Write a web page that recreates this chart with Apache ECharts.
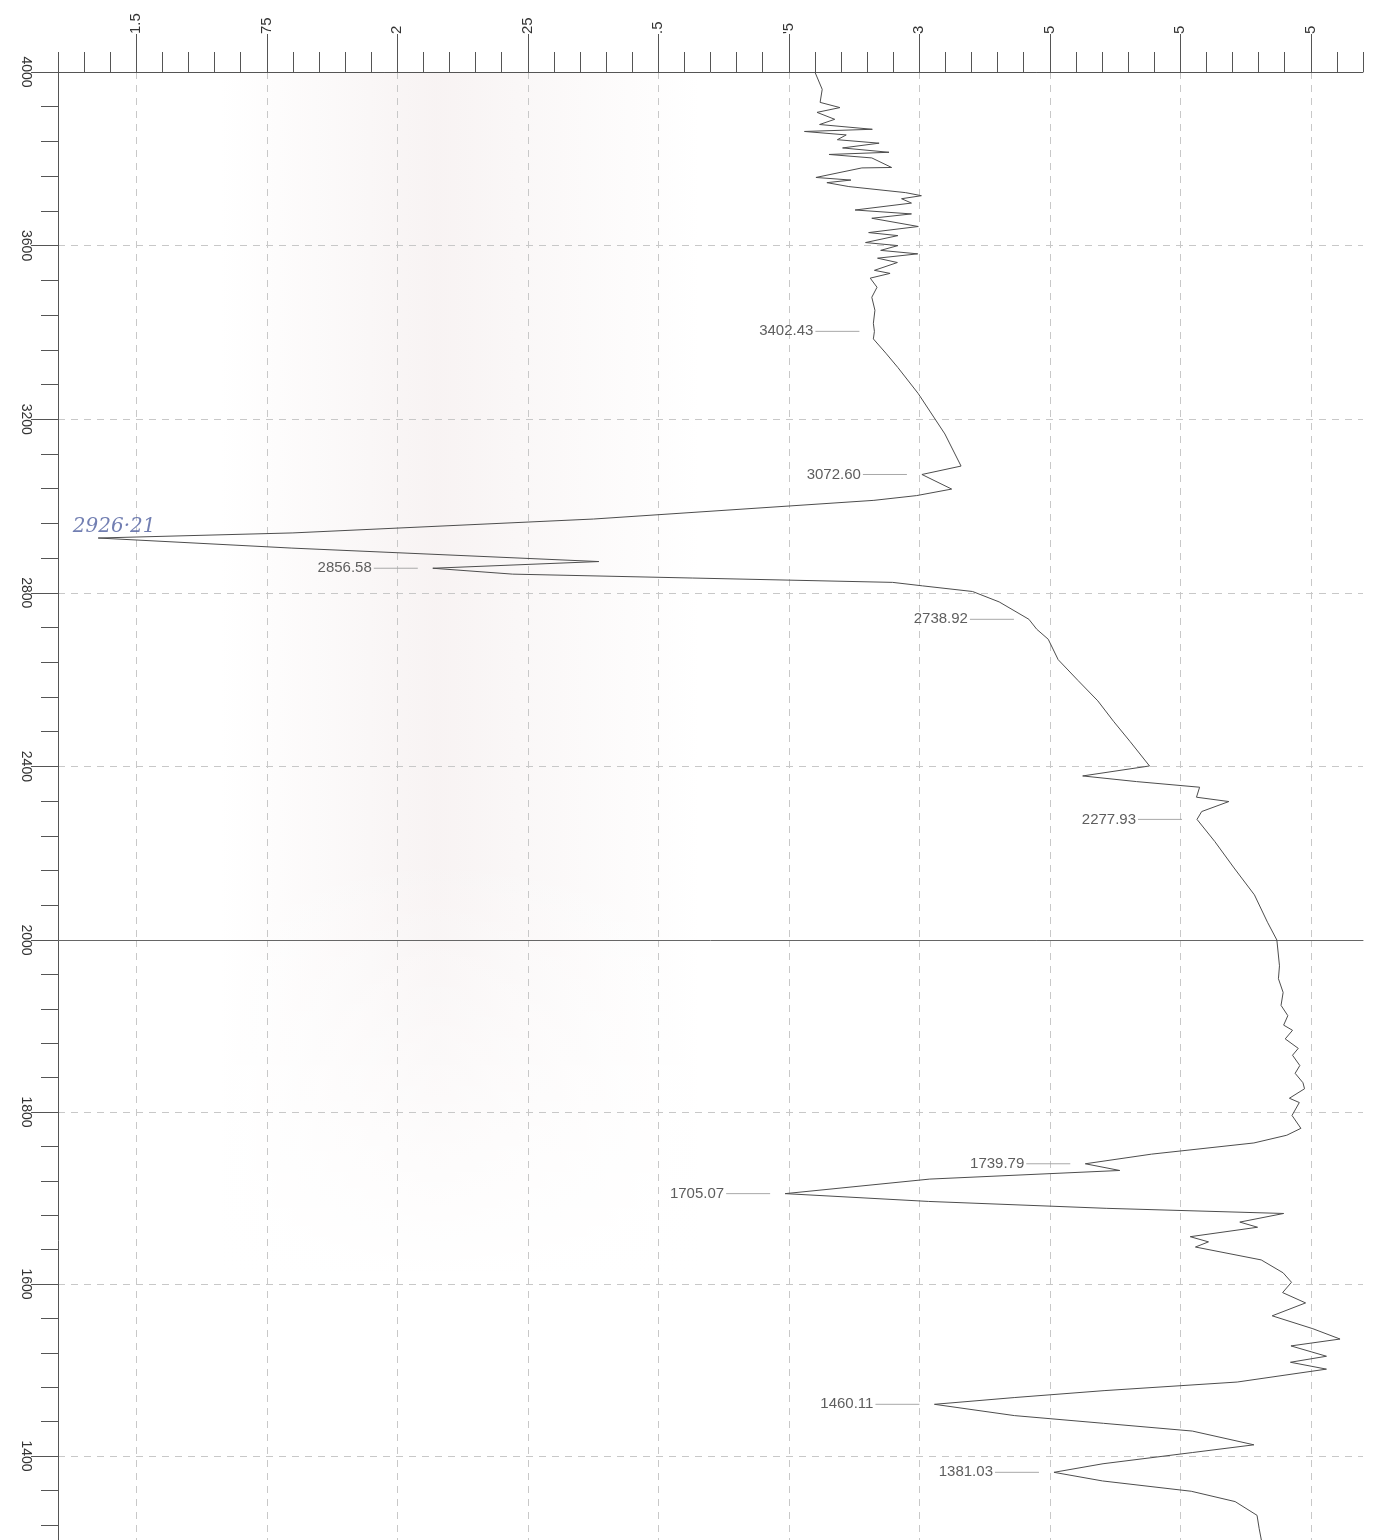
<!DOCTYPE html>
<html>
<head>
<meta charset="utf-8">
<script src="https://cdn.jsdelivr.net/npm/echarts@6/dist/echarts.min.js"></script>
<style>
  html, body { margin: 0; padding: 0; background: #ffffff; }
  #chart { width: 1376px; height: 1540px; }
</style>
</head>
<body>
<div id="chart"></div>
<script>
// ---- Spectrum trace (wavenumber, cm-1) and absorbance ----
const wavenumber = [
  4000, 3960, 3930, 3918, 3907, 3891, 3879, 3868, 3863, 3855,
  3844, 3836, 3825, 3815, 3810, 3802, 3780, 3779, 3757, 3751,
  3745, 3736, 3722, 3715, 3708, 3698, 3682, 3673, 3663, 3644,
  3630, 3623, 3607, 3600, 3589, 3581, 3571, 3561, 3543, 3536,
  3525, 3504, 3481, 3451, 3421, 3402.43, 3385, 3352, 3319, 3259,
  3166, 3092, 3072.60, 3039, 3024, 3013, 2970, 2938, 2926.21, 2903,
  2872, 2856.58, 2843, 2834, 2824, 2816, 2803, 2779, 2738.92, 2716,
  2693, 2646, 2598, 2551, 2504, 2457, 2401, 2378, 2365, 2352,
  2329, 2319, 2296, 2277.93, 2227, 2166, 2104, 2041, 2000,
  1970, 1955, 1939, 1924, 1912, 1901, 1895, 1885, 1874, 1866,
  1854, 1845, 1834, 1827, 1816, 1811, 1796, 1781, 1773, 1764,
  1751, 1739.79, 1732, 1722, 1705.07, 1696, 1688, 1682, 1672, 1666,
  1655, 1649, 1643, 1628, 1613, 1602, 1590, 1578, 1563, 1548,
  1536, 1528, 1516, 1509, 1501, 1486, 1476, 1468, 1460.11, 1447,
  1438, 1429, 1413, 1404, 1391, 1381.03, 1371, 1359, 1347, 1331,
  1316, 1300
];
const absorbance = [
  2.800, 2.814, 2.810, 2.848, 2.804, 2.838, 2.809, 2.910, 2.780, 2.860,
  2.843, 2.923, 2.853, 2.942, 2.827, 2.909, 2.947, 2.890, 2.802, 2.869,
  2.823, 2.865, 2.974, 3.004, 2.966, 2.985, 2.877, 2.985, 2.909, 2.998,
  2.903, 2.959, 2.897, 2.959, 2.926, 2.997, 2.920, 2.958, 2.914, 2.944,
  2.906, 2.919, 2.909, 2.915, 2.912, 2.914, 2.912, 2.936, 2.959, 2.998,
  3.049, 3.080, 3.005, 3.062, 2.995, 2.913, 2.376, 1.800, 1.427, 1.798,
  2.386, 2.068, 2.221, 2.566, 2.949, 3.006, 3.102, 3.153, 3.210, 3.225,
  3.247, 3.266, 3.304, 3.342, 3.372, 3.404, 3.441, 3.313, 3.416, 3.537,
  3.531, 3.593, 3.541, 3.532, 3.566, 3.603, 3.642, 3.667, 3.685,
  3.690, 3.688, 3.697, 3.693, 3.706, 3.698, 3.715, 3.701, 3.726, 3.715,
  3.729, 3.720, 3.735, 3.738, 3.709, 3.728, 3.714, 3.731, 3.704, 3.641,
  3.445, 3.318, 3.384, 3.020, 2.743, 3.018, 3.358, 3.698, 3.614, 3.648,
  3.519, 3.554, 3.529, 3.655, 3.697, 3.713, 3.696, 3.740, 3.676, 3.754,
  3.806, 3.712, 3.780, 3.711, 3.780, 3.609, 3.354, 3.183, 3.029, 3.182,
  3.353, 3.523, 3.641, 3.523, 3.352, 3.258, 3.351, 3.521, 3.605, 3.647,
  3.651, 3.656
];

// ---- Peak annotations ----
const peakWavenumbers = [3402.43, 3072.60, 2856.58, 2738.92, 2277.93, 1739.79, 1705.07, 1460.11, 1381.03];
const peakAbsorbance  = [2.914, 3.005, 2.068, 3.210, 3.532, 3.318, 2.743, 3.029, 3.258];
const peakLabels = ['3402.43', '3072.60', '2856.58', '2738.92', '2277.93', '1739.79', '1705.07', '1460.11', '1381.03'];
const handPeakWavenumber = 2926.21;
const handPeakAbsorbance = 1.427;
const handPeakText = '2926·21';

// ---- Axis ticks and labels ----
const xTickValues = [1.5, 1.75, 2, 2.25, 2.5, 2.75, 3, 3.25, 3.5, 3.75];
const xTickLabels = ['1.5', '75', '2', '25', '.5', "'5", '3', '5', '5', '5'];
const yBottomTicks = [1800, 1600, 1400];

// minor tick positions (axis decoration)
const xMinorTicks = [];
for (let k = 27; k <= 77; k++) { if (k % 5 !== 0) xMinorTicks.push(Math.round(k * 5) / 100); }
const yBottomMinor = [];
for (let v = 1320; v < 2000; v += 40) { if (v % 200 !== 0) yBottomMinor.push(v); }

const topData = [], bottomData = [];
wavenumber.forEach((w, i) => {
  if (w >= 2000) topData.push([absorbance[i], w]);
  if (w <= 2000) bottomData.push([absorbance[i], w]);
});
const peaksTop = [], peaksBottom = [], labelsTop = [], labelsBottom = [];
peakWavenumbers.forEach((w, i) => {
  if (w >= 2000) { peaksTop.push([peakAbsorbance[i], w]); labelsTop.push(peakLabels[i]); }
  else { peaksBottom.push([peakAbsorbance[i], w]); labelsBottom.push(peakLabels[i]); }
});

const AXIS_COLOR = '#555';
const GRID_COLOR = '#c8c8c8';
const FONT = 'Liberation Sans';

function makePeakRender(labels) {
  return function (params, api) {
    const p = api.coord([api.value(0), api.value(1)]);
    const x1 = p[0] - 15, x0 = x1 - 44;
    return {
      type: 'group',
      children: [
        { type: 'line', shape: { x1: x0, y1: p[1], x2: x1, y2: p[1] },
          style: { stroke: '#a8a8a8', lineWidth: 1 } },
        { type: 'text', style: { text: labels[params.dataIndex], x: x0 - 2, y: p[1], align: 'right',
          verticalAlign: 'middle', fill: '#5e5e5e', font: '15px ' + FONT } }
      ]
    };
  };
}

const chart = echarts.init(document.getElementById('chart'));
chart.setOption({
  animation: false,
  backgroundColor: '#ffffff',
  graphic: [
    {
      type: 'rect', silent: true, z: -10,
      shape: { x: 220, y: 72, width: 480, height: 1200 },
      style: { fill: new echarts.graphic.LinearGradient(0, 0, 1, 0, [
        { offset: 0, color: 'rgba(236,226,226,0)' },
        { offset: 0.45, color: 'rgba(236,224,224,0.38)' },
        { offset: 1, color: 'rgba(236,226,226,0)' }
      ]) }
    },
    {
      type: 'rect', silent: true, z: -9,
      shape: { x: 200, y: 850, width: 520, height: 430 },
      style: { fill: new echarts.graphic.LinearGradient(0, 0, 0, 1, [
        { offset: 0, color: 'rgba(255,255,255,0)' },
        { offset: 1, color: 'rgba(255,255,255,1)' }
      ]) }
    }
  ],
  grid: [
    { left: 58, top: 72, width: 1305, height: 868, outerBoundsMode: 'none' },
    { left: 58, top: 940, width: 1305, height: 602, outerBoundsMode: 'none' }
  ],
  xAxis: [
    { // top axis: majors + labels + vertical grid (upper panel)
      type: 'value', gridIndex: 0, position: 'top', min: 1.35, max: 3.85,
      axisLine: { show: true, lineStyle: { color: AXIS_COLOR, width: 1 } },
      axisTick: { show: true, inside: false, length: 38, customValues: xTickValues,
        lineStyle: { color: AXIS_COLOR } },
      axisLabel: { show: true, customValues: xTickValues, rotate: -90, margin: 38,
        color: '#333', fontSize: 15, fontFamily: FONT,
        formatter: v => { const i = xTickValues.findIndex(t => Math.abs(t - v) < 1e-6); return i >= 0 ? xTickLabels[i] : ''; } },
      splitLine: { show: true, lineStyle: { color: GRID_COLOR, type: [7, 6], width: 1 } }
    },
    { // top axis minor ticks
      type: 'value', gridIndex: 0, position: 'top', min: 1.35, max: 3.85,
      axisLine: { show: false },
      axisTick: { show: true, inside: false, length: 20, customValues: xMinorTicks,
        lineStyle: { color: AXIS_COLOR } },
      axisLabel: { show: false },
      splitLine: { show: false }
    },
    { // lower panel: solid 2000 line + vertical grid
      type: 'value', gridIndex: 1, position: 'top', min: 1.35, max: 3.85,
      axisLine: { show: true, lineStyle: { color: '#666', width: 1 } },
      axisTick: { show: false, customValues: xTickValues },
      axisLabel: { show: false },
      splitLine: { show: true, lineStyle: { color: GRID_COLOR, type: [7, 6], width: 1 } }
    }
  ],
  yAxis: [
    {
      type: 'value', gridIndex: 0, position: 'left', min: 2000, max: 4000, interval: 400,
      axisLine: { show: true, lineStyle: { color: AXIS_COLOR, width: 1 } },
      axisTick: { show: true, inside: false, length: 27, lineStyle: { color: AXIS_COLOR } },
      minorTick: { show: true, splitNumber: 5, length: 17, lineStyle: { color: AXIS_COLOR } },
      axisLabel: { show: true, rotate: -90, margin: 25, color: '#333', fontSize: 14, fontFamily: FONT,
        formatter: v => String(Math.round(v)) },
      splitLine: { show: true, showMinLine: false, showMaxLine: false,
        lineStyle: { color: GRID_COLOR, type: [7, 6], width: 1 } }
    },
    {
      type: 'value', gridIndex: 1, position: 'left', min: 1300, max: 2000,
      axisLine: { show: true, lineStyle: { color: AXIS_COLOR, width: 1 } },
      axisTick: { show: true, inside: false, length: 27, customValues: yBottomTicks,
        lineStyle: { color: AXIS_COLOR } },
      axisLabel: { show: true, customValues: yBottomTicks, rotate: -90, margin: 25,
        color: '#333', fontSize: 14, fontFamily: FONT, formatter: v => String(Math.round(v)) },
      splitLine: { show: true, lineStyle: { color: GRID_COLOR, type: [7, 6], width: 1 } }
    },
    {
      type: 'value', gridIndex: 1, position: 'left', min: 1300, max: 2000,
      axisLine: { show: false },
      axisTick: { show: true, inside: false, length: 17, customValues: yBottomMinor,
        lineStyle: { color: AXIS_COLOR } },
      axisLabel: { show: false },
      splitLine: { show: false }
    }
  ],
  series: [
    { type: 'line', xAxisIndex: 0, yAxisIndex: 0, data: topData, showSymbol: false,
      symbol: 'none', lineStyle: { color: '#4d4d4d', width: 1 }, z: 5 },
    { type: 'line', xAxisIndex: 2, yAxisIndex: 1, data: bottomData, showSymbol: false,
      symbol: 'none', lineStyle: { color: '#4d4d4d', width: 1 }, z: 5 },
    { type: 'custom', xAxisIndex: 0, yAxisIndex: 0, data: peaksTop, encode: { x: 0, y: 1 },
      renderItem: makePeakRender(labelsTop), clip: false, z: 6 },
    { type: 'custom', xAxisIndex: 2, yAxisIndex: 1, data: peaksBottom, encode: { x: 0, y: 1 },
      renderItem: makePeakRender(labelsBottom), clip: false, z: 6 },
    { type: 'scatter', xAxisIndex: 0, yAxisIndex: 0,
      data: [[handPeakAbsorbance, handPeakWavenumber]], symbolSize: 0, z: 7,
      label: { show: true, position: 'inside', offset: [16, -11], formatter: handPeakText,
        color: '#4f5f9f', fontSize: 20, fontStyle: 'italic', fontFamily: 'DejaVu Serif' } }
  ]
});
</script>
</body>
</html>
